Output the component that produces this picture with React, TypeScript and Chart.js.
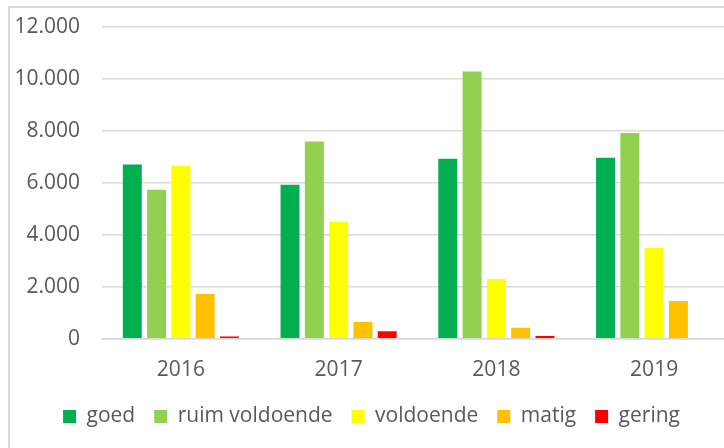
import React, { useEffect, useRef } from "react";
import { Chart, registerables } from "chart.js";

Chart.register(...registerables);

const years = ["2016", "2017", "2018", "2019"];
const goed = [6700, 5920, 6920, 6960];
const ruimVoldoende = [5730, 7580, 10270, 7910];
const voldoende = [6650, 4500, 2300, 3490];
const matig = [1720, 650, 420, 1450];
const gering = [90, 290, 110, 0];

const seriesNames = ["goed", "ruim voldoende", "voldoende", "matig", "gering"];
const seriesColors = ["#00B050", "#92D050", "#FFFF00", "#FFC000", "#FF0000"];

const FONT = "'Open Sans', 'Noto Sans', sans-serif";
const TEXT = "#595959";
const GRID = "#d9d9d9";

function fmt(v: number): string {
  return String(v).replace(/\B(?=(\d{3})+(?!\d))/g, ".");
}

export default function App() {
  const ref = useRef<HTMLCanvasElement>(null);
  useEffect(() => {
    if (!ref.current) return;
    const values = [goed, ruimVoldoende, voldoende, matig, gering];
    const chart = new Chart(ref.current, {
      type: "bar",
      data: {
        labels: years,
        datasets: seriesNames.map((n, i) => ({
          label: n,
          data: values[i],
          backgroundColor: seriesColors[i],
          borderWidth: 0,
          categoryPercentage: 0.77,
          barPercentage: 0.78,
        })),
      },
      options: {
        animation: false,
        responsive: false,
        maintainAspectRatio: false,
        layout: { padding: { top: 0, left: 0, right: 0, bottom: 0 } },
        plugins: {
          tooltip: { enabled: false },
          legend: {
            position: "bottom",
            labels: {
              boxWidth: 13,
              boxHeight: 13,
              padding: 19,
              color: TEXT,
              font: { family: FONT, size: 21 },
            },
          },
        },
        scales: {
          x: {
            grid: { display: false, drawTicks: false },
            border: { display: true, color: GRID, width: 1.5 },
            ticks: { color: TEXT, font: { family: FONT, size: 21 }, padding: 19 },
            afterFit: (s: any) => {
              s.height = s.height - 15;
            },
          },
          y: {
            min: 0,
            max: 12000,
            grid: { color: GRID, lineWidth: 1.5, drawTicks: false },
            border: { display: false },
            ticks: {
              stepSize: 2000,
              color: TEXT,
              font: { family: FONT, size: 21 },
              padding: 22,
              callback: (v: any) => fmt(Number(v)),
            },
            afterFit: (s: any) => {
              s.width = 92;
            },
          },
        },
      },
    });
    return () => chart.destroy();
  }, []);
  return (
    <div style={{ position: "fixed", left: 0, top: 0, width: 724, height: 448, overflow: "hidden", background: "#fff" }}>
      <div
        style={{
          position: "absolute",
          left: 8,
          top: 6,
          width: 760,
          height: 480,
          border: "2px solid #d9d9d9",
          boxSizing: "border-box",
        }}
      />
      <canvas
        ref={ref}
        width={723}
        height={445}
        style={{ position: "absolute", left: 10, top: -8, width: 723, height: 445 }}
      />
    </div>
  );
}
